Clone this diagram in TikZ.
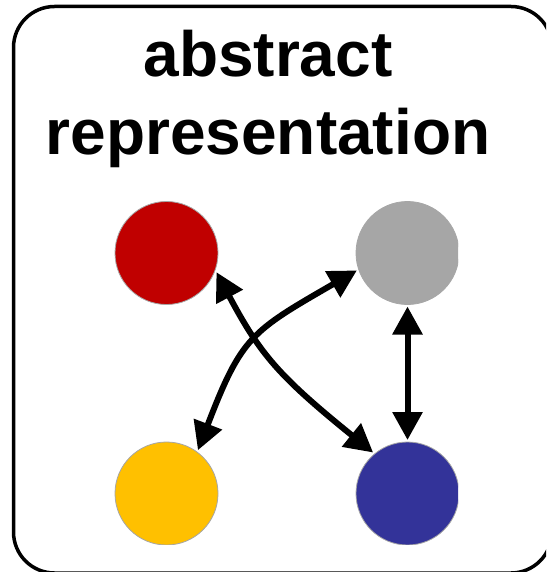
\documentclass[tikz,border=0pt]{standalone}
\usepackage{fontspec}
\setmainfont{Liberation Sans}
\usetikzlibrary{arrows.meta}
\definecolor{nodered}{HTML}{C00000}
\definecolor{nodegrey}{HTML}{A6A6A6}
\definecolor{nodegold}{HTML}{FFC000}
\definecolor{nodeblue}{HTML}{333399}
\tikzset{
  frame/.style={line width=3.5pt, rounded corners=41pt},
  title/.style={font=\fontsize{64}{72}\selectfont\bfseries, inner sep=0pt, anchor=base},
  dot/.style={circle, minimum size=103pt, inner sep=0pt, outer sep=2pt, draw=gray!70, line width=0.8pt},
  link/.style={line width=6pt, {Triangle[length=28pt,width=29pt]}-{Triangle[length=28pt,width=29pt]}}
}
\begin{document}
\begin{tikzpicture}[x=1pt, y=-1pt]
\useasboundingbox (0,0) rectangle (546,572);
\clip (0,0) rectangle (546,572);
% outer frame
\draw[frame] (13.5,6.5) rectangle (552,573);
% heading
\node[title] (t1) at (268,77) {abstract};
\node[title] (t2) at (268,155) {representation};
% the four states
\begin{scope}
  \clip (0,0) rectangle (458,544);
  \node[dot, fill=nodered]  (red)    at (166.5,253)   {};
  \node[dot, fill=nodegrey] (grey)   at (407.5,253)   {};
  \node[dot, fill=nodegold] (orange) at (166.5,493.5) {};
  \node[dot, fill=nodeblue] (blue)   at (407.5,493.5) {};
\end{scope}
% transitions
\draw[link] (red.-21) to[out=-62, in=141, out looseness=1.0, in looseness=1.3] (blue.130);
\draw[link] (orange.54) to[out=69, in=210, looseness=1.3] (grey.199);
\draw[link] (grey.south) -- (blue.north);
\end{tikzpicture}
\end{document}
